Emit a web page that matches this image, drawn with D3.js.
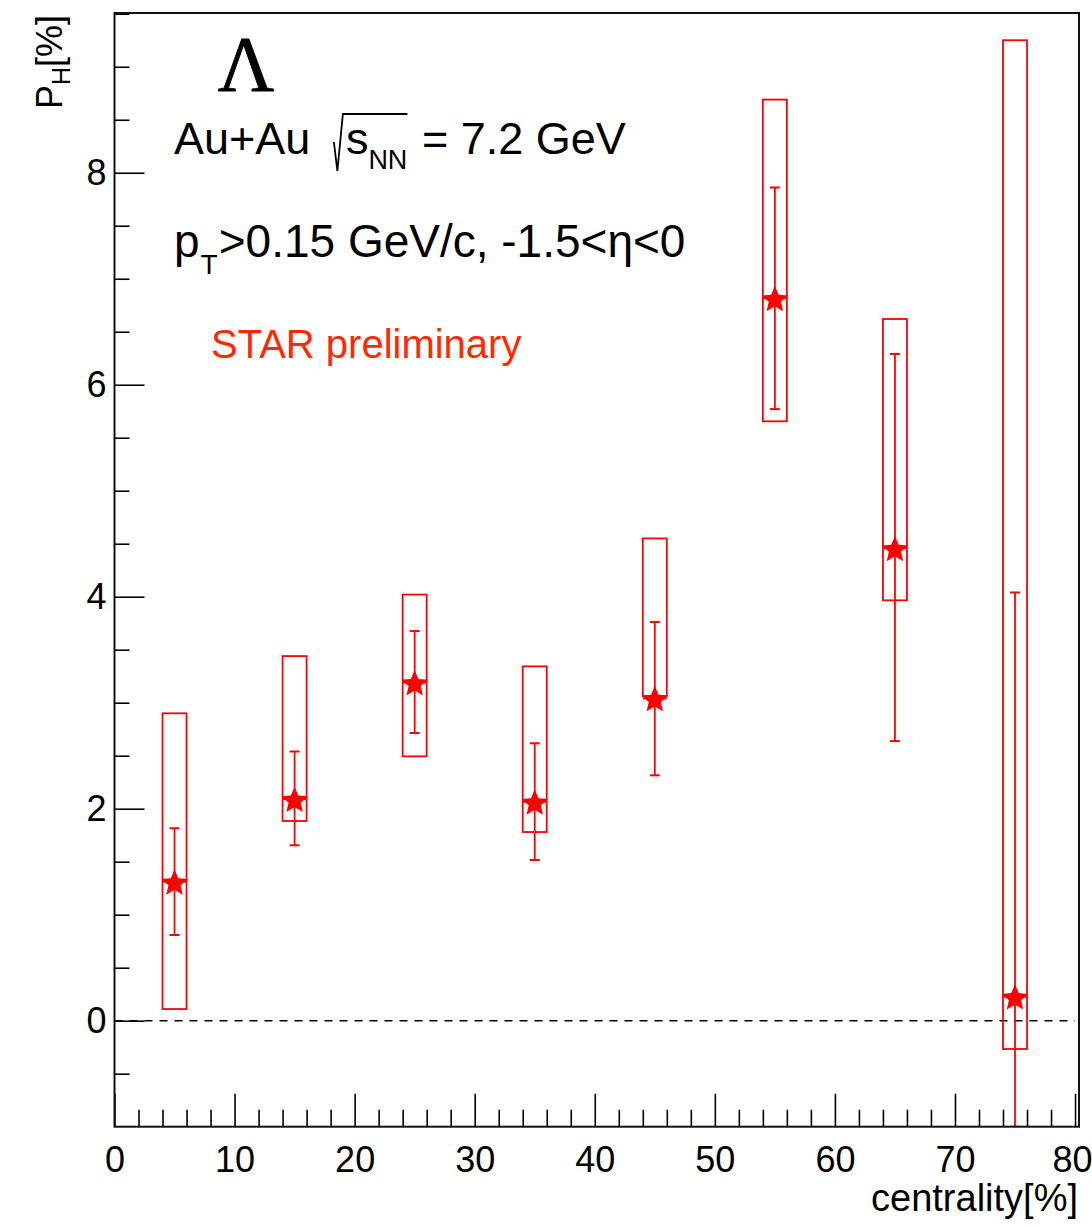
<!DOCTYPE html>
<html>
<head>
<meta charset="utf-8">
<script src="https://cdn.jsdelivr.net/npm/d3@7"></script>
<style>
  html, body { margin: 0; padding: 0; background: #fff; }
  svg { display: block; }
</style>
</head>
<body>
<svg id="chart" width="1092" height="1227"></svg>
<script>
// ---- data ----
const centrality   = [5, 15, 25, 35, 45, 55, 65, 75];
const polarization = [1.31, 2.09, 3.19, 2.065, 3.04, 6.815, 4.456, 0.226];
const statLow      = [0.808, 1.655, 2.714, 1.516, 2.315, 5.77, 2.638, -3.59];
const statHigh     = [1.815, 2.54, 3.676, 2.617, 3.761, 7.86, 6.29, 4.04];
const sysLow       = [0.11, 1.884, 2.494, 1.78, 3.063, 5.655, 3.966, -0.267];
const sysHigh      = [2.90, 3.44, 4.02, 3.343, 4.55, 8.69, 6.62, 9.25];
const binHalfWidth = 1;
const xMajorTicks  = [0, 10, 20, 30, 40, 50, 60, 70, 80];
const yMajorTicks  = [0, 2, 4, 6, 8];

const SANS = "'Liberation Sans', Arial, Helvetica, sans-serif";
const SERIF = "'Liberation Serif', 'Times New Roman', serif";
const RED = "#ff0000";

const svg = d3.select("#chart");
const x = d3.scaleLinear().domain([0, 80.33]).range([114.5, 1079]);
const y = d3.scaleLinear().domain([-1, 9.507]).range([1126.7, 13]);
const [x0, x1] = x.range();
const [yb, yt] = y.range();

// clip
svg.append("defs").append("clipPath").attr("id", "plotclip")
  .append("rect").attr("x", x0).attr("y", yt).attr("width", x1 - x0).attr("height", yb - yt);

// ---- axes ----
const xMinor = d3.range(2, 80.01, 2).filter(v => v % 10 !== 0);
const yMinor = d3.range(-0.5, 9.51, 0.5).filter(v => v % 2 !== 0);

const gx = svg.append("g").attr("transform", `translate(0,${yb})`);
gx.call(d3.axisBottom(x).tickValues(xMajorTicks).tickSizeInner(-33).tickSizeOuter(0)
  .tickPadding(20).tickFormat(d3.format("d")));
gx.append("g").call(d3.axisBottom(x).tickValues(xMinor).tickSizeInner(-17).tickSizeOuter(0).tickFormat(""));
// keep the last label inside the page
gx.selectAll(".tick text").filter(d => d === 80).attr("dx", -3);

const gy = svg.append("g").attr("transform", `translate(${x0},0)`);
gy.call(d3.axisLeft(y).tickValues(yMajorTicks).tickSizeInner(-30).tickSizeOuter(0)
  .tickPadding(8).tickFormat(d3.format("d")));
gy.append("g").call(d3.axisLeft(y).tickValues(yMinor).tickSizeInner(-15).tickSizeOuter(0).tickFormat(""));

svg.selectAll(".domain").remove();
svg.selectAll(".tick line").attr("stroke", "#000").attr("stroke-width", 1.6);
svg.selectAll(".tick text").attr("font-family", SANS).attr("font-size", 36).attr("fill", "#000");

// zero line
svg.append("line")
  .attr("x1", x(0)).attr("x2", x(80)).attr("y1", y(0)).attr("y2", y(0))
  .attr("stroke", "#000").attr("stroke-width", 1.5).attr("stroke-dasharray", "8,7");

// ---- data marks ----
const data = centrality.map((c, i) => ({
  c, v: polarization[i], sl: statLow[i], sh: statHigh[i], yl: sysLow[i], yh: sysHigh[i]
}));
const clampY = v => y(Math.max(-1, Math.min(9.507, v)));
const gd = svg.append("g").attr("clip-path", "url(#plotclip)");

// systematic boxes
gd.selectAll("rect.sys").data(data).join("rect").attr("class", "sys")
  .attr("x", d => x(d.c - binHalfWidth))
  .attr("width", d => x(d.c + binHalfWidth) - x(d.c - binHalfWidth))
  .attr("y", d => y(d.yh))
  .attr("height", d => y(d.yl) - y(d.yh))
  .attr("fill", "none").attr("stroke", RED).attr("stroke-width", 1.8);

// horizontal bin-width bars
gd.selectAll("line.xerr").data(data).join("line").attr("class", "xerr")
  .attr("x1", d => x(d.c - binHalfWidth)).attr("x2", d => x(d.c + binHalfWidth))
  .attr("y1", d => y(d.v)).attr("y2", d => y(d.v))
  .attr("stroke", RED).attr("stroke-width", 1.8);

// stat error bars
gd.selectAll("line.stat").data(data).join("line").attr("class", "stat")
  .attr("x1", d => x(d.c)).attr("x2", d => x(d.c))
  .attr("y1", d => clampY(d.sh)).attr("y2", d => clampY(d.sl))
  .attr("stroke", RED).attr("stroke-width", 1.8);
const capHalf = 5;
["sh", "sl"].forEach(k => {
  gd.selectAll("line.cap" + k).data(data).join("line").attr("class", "cap" + k)
    .attr("x1", d => x(d.c) - capHalf).attr("x2", d => x(d.c) + capHalf)
    .attr("y1", d => clampY(d[k])).attr("y2", d => clampY(d[k]))
    .attr("stroke", RED).attr("stroke-width", 2);
});

// stars (ROOT-like five-point star marker)
function starPath(R, r) {
  const p = d3.path();
  for (let i = 0; i < 10; i++) {
    const a = -Math.PI / 2 + i * Math.PI / 5;
    const rad = i % 2 === 0 ? R : r;
    const px = rad * Math.cos(a), py = rad * Math.sin(a);
    if (i === 0) p.moveTo(px, py); else p.lineTo(px, py);
  }
  p.closePath();
  return p.toString();
}
const starD = starPath(14, 6.4);
gd.selectAll("path.star").data(data).join("path").attr("class", "star")
  .attr("transform", d => `translate(${x(d.c)},${y(d.v) + 1.5})`)
  .attr("d", starD).attr("fill", RED);

// frame
svg.append("rect").attr("x", x0).attr("y", yt).attr("width", x1 - x0).attr("height", yb - yt)
  .attr("fill", "none").attr("stroke", "#111").attr("stroke-width", 2);

// ---- text ----
function rich(xs, ys, segs, color) {
  let cx = xs;
  let radStart = null, radBase = null;
  segs.forEach(s => {
    if (s.radical) {
      radStart = cx + (s.gap || 0);
      radBase = ys;
      cx = radStart + 12;
      return;
    }
    if (s.radicalEnd) {
      const p = d3.path();
      p.moveTo(radStart, radBase - 12);
      p.lineTo(radStart + 3.5, radBase + 17);
      p.lineTo(radStart + 9, radBase - 40);
      p.lineTo(cx, radBase - 40);
      svg.append("path").attr("d", p.toString()).attr("fill", "none")
        .attr("stroke", color).attr("stroke-width", 1.8);
      return;
    }
    cx += (s.gap || 0);
    const t = svg.append("text").attr("x", cx).attr("y", ys + (s.shift || 0))
      .attr("font-family", s.family || SANS).attr("font-size", s.size)
      .attr("fill", color).attr("xml:space", "preserve").style("white-space", "pre")
      .text(s.t);
    cx += t.node().getComputedTextLength();
  });
}

// Lambda
svg.append("text").attr("x", 246).attr("y", 90).attr("text-anchor", "middle")
  .attr("font-family", SERIF).attr("font-size", 78).attr("fill", "#000")
  .attr("stroke", "#000").attr("stroke-width", 0.8).text("Λ");

rich(174, 154, [
  { t: "Au+Au ", size: 45 },
  { radical: true, gap: 11 },
  { t: "s", size: 45 },
  { t: "NN", size: 27, shift: 15 },
  { radicalEnd: true },
  { t: " = 7.2 GeV", size: 45, gap: 2 }
], "#000");

rich(174, 257, [
  { t: "p", size: 46 },
  { t: "T", size: 28, shift: 17, gap: 1 },
  { t: ">0.15 GeV/c, -1.5<η<0", size: 46, gap: 1 }
], "#000");

svg.append("text").attr("x", 211).attr("y", 358)
  .attr("font-family", SANS).attr("font-size", 40).attr("fill", "#ff2800")
  .text("STAR preliminary");

// axis titles
svg.append("text").attr("x", 1078).attr("y", 1211).attr("text-anchor", "end")
  .attr("font-family", SANS).attr("font-size", 38).attr("fill", "#000")
  .text("centrality[%]");

const yl = svg.append("text").attr("transform", "translate(62,15) rotate(-90)")
  .attr("text-anchor", "end").attr("font-family", SANS).attr("font-size", 36).attr("fill", "#000");
yl.append("tspan").text("P");
yl.append("tspan").attr("font-size", 25).attr("dy", 8).text("H");
yl.append("tspan").attr("dy", -8).text("[%]");
</script>
</body>
</html>
